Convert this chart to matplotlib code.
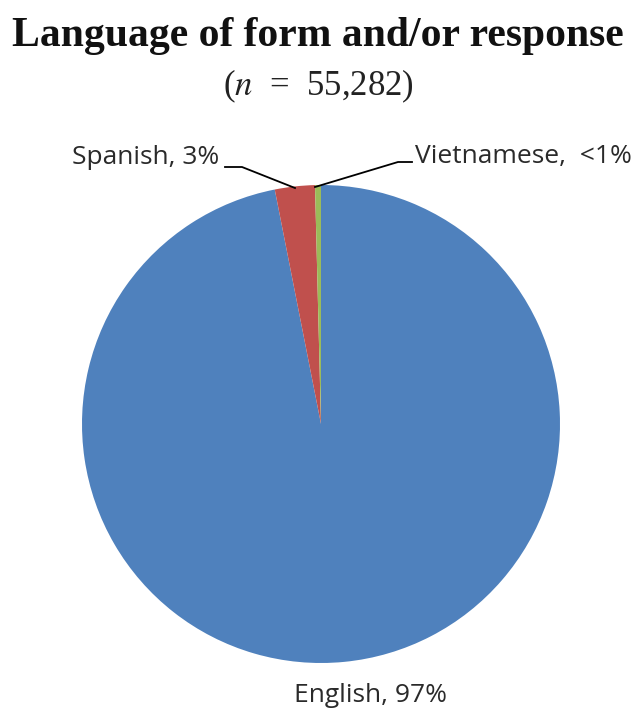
import matplotlib
matplotlib.use("Agg")
import matplotlib.pyplot as plt

plt.rcParams["mathtext.fontset"] = "stix"

labels = ["English", "Spanish", "Vietnamese"]
values = [96.9, 2.7, 0.4]
label_texts = ["English, 97%", "Spanish, 3%", "Vietnamese,  <1%"]
colors = ["#4F81BD", "#C0504D", "#9BBB59"]

W, H = 636, 715
fig = plt.figure(figsize=(W / 100, H / 100), dpi=100)
ax = fig.add_axes([0, 0, 1, 1])

cx, cy, r = 321, H - 424, 239
ax.pie(values, colors=colors, startangle=90, counterclock=False,
       center=(cx, cy), radius=r, wedgeprops=dict(linewidth=0))
ax.set_xlim(0, W)
ax.set_ylim(0, H)
ax.set_aspect("equal")
ax.axis("off")

# Title
ax.text(318, H - 36, "Language of form and/or response", ha="center", va="center",
        fontsize=30, fontweight="bold", family="Liberation Serif", color="#111111")
ax.text(318, H - 86, r"($\mathit{n}$  =  55,282)", ha="center", va="center",
        fontsize=25, family="Liberation Serif", color="#222222")

lab_font = dict(fontsize=19, family="Open Sans", color="#2a2a2a")
# Spanish label & leader
ax.text(219, H - 157, label_texts[1], ha="right", va="center", **lab_font)
ax.plot([225, 242, 295], [H - 167, H - 167, H - 188], color="black", lw=1.3)
# Vietnamese label & leader
ax.text(415, H - 156, label_texts[2], ha="left", va="center", **lab_font)
ax.plot([315, 398, 412], [H - 187, H - 162, H - 162], color="black", lw=1.3)
# English label
ax.text(371, H - 696, label_texts[0], ha="center", va="center", **lab_font)

fig.savefig("out.png", dpi=100)
